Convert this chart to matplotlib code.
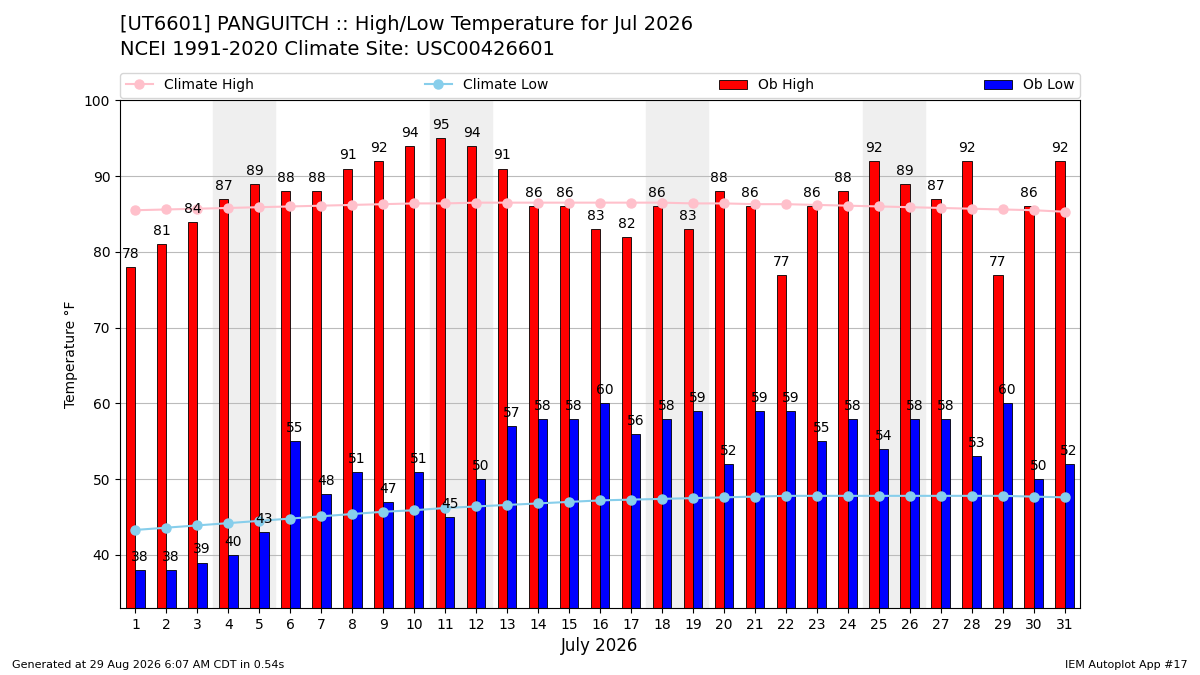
import matplotlib
matplotlib.use("Agg")
import matplotlib.pyplot as plt
import numpy as np

days = np.arange(1, 32)
ob_high = [78, 81, 84, 87, 89, 88, 88, 91, 92, 94, 95, 94, 91, 86, 86, 83, 82, 86, 83, 88,
           86, 77, 86, 88, 92, 89, 87, 92, 77, 86, 92]
ob_low = [38, 38, 39, 40, 43, 55, 48, 51, 47, 51, 45, 50, 57, 58, 58, 60, 56, 58, 59, 52,
          59, 59, 55, 58, 54, 58, 58, 53, 60, 50, 52]
clim_high = [85.5, 85.6, 85.7, 85.8, 85.9, 86.0, 86.1, 86.2, 86.3, 86.4, 86.4, 86.5, 86.5, 86.5,
             86.5, 86.5, 86.5, 86.5, 86.4, 86.4, 86.3, 86.3, 86.2, 86.1, 86.0, 85.9, 85.8, 85.7,
             85.6, 85.5, 85.3]
clim_low = [43.3, 43.6, 43.9, 44.2, 44.5, 44.8, 45.1, 45.4, 45.7, 45.9, 46.2, 46.4, 46.6, 46.8,
            47.0, 47.2, 47.3, 47.4, 47.5, 47.6, 47.7, 47.8, 47.8, 47.8, 47.8, 47.8, 47.8, 47.8,
            47.8, 47.7, 47.6]
weekends = [4, 11, 18, 25]

fig = plt.figure(figsize=(12, 6.75), dpi=100)
ax = fig.add_axes([0.1, 0.0993, 0.8, 0.752])

for d in weekends:
    ax.axvspan(d - 0.5, d + 1.5, color="#efefef", zorder=0)

w = 0.3
ax.plot(days, clim_high, color="pink", marker="o", markersize=6.5, lw=1.5,
        label="Climate High", zorder=3)
ax.plot(days, clim_low, color="skyblue", marker="o", markersize=6.5, lw=1.5,
        label="Climate Low", zorder=3)
ax.bar(days - w / 2, ob_high, width=w, color="red", edgecolor="black", linewidth=0.6,
       label="Ob High", zorder=2)
ax.bar(days + w / 2, ob_low, width=w, color="blue", edgecolor="black", linewidth=0.6,
       label="Ob Low", zorder=2)
for d, h, l in zip(days, ob_high, ob_low):
    ax.text(d - w / 2, h + 0.8, str(h), ha="center", va="bottom", fontsize=10, zorder=4)
    ax.text(d + w / 2, l + 0.8, str(l), ha="center", va="bottom", fontsize=10, zorder=4)

ax.set_xlim(0.5, 31.5)
ax.set_ylim(33, 100)
ax.set_xticks(days)
ax.set_xlabel("July 2026", fontsize=12)
ax.set_ylabel("Temperature °F")
ax.yaxis.grid(True, color="#bbbbbb", lw=0.8)
ax.set_axisbelow(True)

ax.legend(loc="lower left", bbox_to_anchor=(0, 1.005, 1, 0.05), ncol=4, mode="expand",
          borderaxespad=0, fontsize=10)

fig.text(0.1, 0.955, "[UT6601] PANGUITCH :: High/Low Temperature for Jul 2026", fontsize=14)
fig.text(0.1, 0.918, "NCEI 1991-2020 Climate Site: USC00426601", fontsize=14)
fig.text(0.01, 0.01, "Generated at 29 Aug 2026 6:07 AM CDT in 0.54s", fontsize=8)
fig.text(0.99, 0.01, "IEM Autoplot App #17", fontsize=8, ha="right")

fig.savefig("out.png")
